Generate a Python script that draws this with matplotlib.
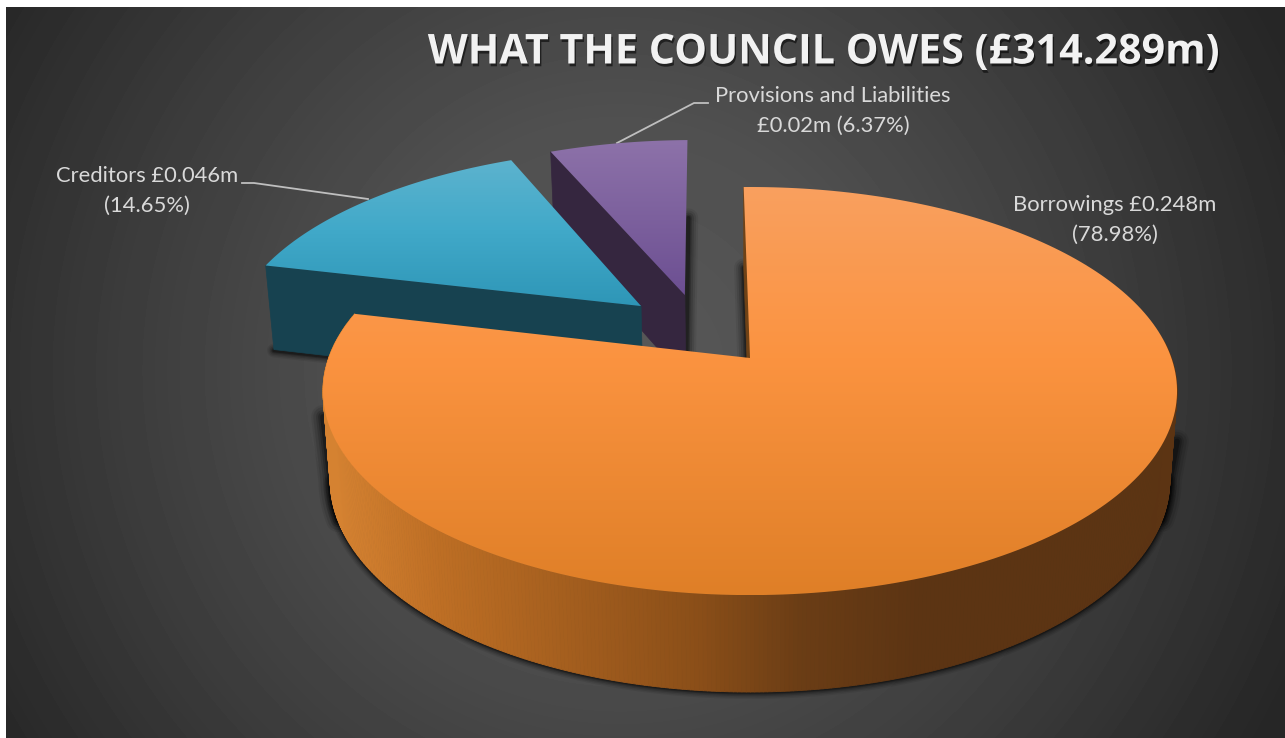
import numpy as np
import matplotlib
matplotlib.use('Agg')
import matplotlib.pyplot as plt
import matplotlib.patheffects as pe
from matplotlib.collections import PolyCollection
from matplotlib.colors import to_rgb
from matplotlib.patches import Polygon

title = 'WHAT THE COUNCIL OWES (£314.289m)'
categories = ['Borrowings', 'Creditors', 'Provisions and Liabilities']
amounts = ['£0.248m', '£0.046m', '£0.02m']
shares = [78.98, 14.65, 6.37]
labels = ['Borrowings £0.248m\n(78.98%)',
          'Creditors £0.046m\n(14.65%)',
          'Provisions and Liabilities\n£0.02m (6.37%)']

W, H = 1285, 738
APEX_X, APEX_Y = 750, 358
RX, RY, TILT = 421.4, 198.7, 0.162
START = 91.0
# how far each slice is pulled out, in pie plane units
explode = [(0, 0), (-0.27, 0.273), (-0.163, 0.334)]

top_ramps = [
    ([187, 358, 595], ['#F9A05F', '#FB9340', '#DF7F27']),
    ([159, 230, 306], ['#5DB3CE', '#41A9C9', '#2E96B7']),
    ([140, 295], ['#8D72A9', '#6C4F92']),
]
side_stops = ([335, 440, 700, 800, 920], ['#D58231', '#BD6E24', '#8A4E18', '#6B3D15', '#5C3413'])
panel_colors = ['#6F4216', '#174250', '#35263F']


def top_xy(u, v, off=(0, 0)):
    u = np.asarray(u) + off[0]
    v = np.asarray(v) + off[1]
    w = 1 + TILT * v
    return APEX_X + RX * u / w, APEX_Y - RY * v / w


def to_bottom(x, y):
    return APEX_X + 0.983 * (np.asarray(x) - APEX_X), 73.7 + 1.039 * np.asarray(y)


def arc(a1, a2, off=(0, 0), n=240):
    t = np.radians(np.linspace(a1, a2, n))
    return top_xy(np.cos(t), np.sin(t), off)


def ramp_colors(values, stops, cols):
    rgb = np.array([to_rgb(c) for c in cols])
    return np.stack([np.interp(values, stops, rgb[:, i]) for i in range(3)], axis=-1)


def shadow_line(ax, x, y, z, widths=(10, 8, 6, 4, 2.5)):
    for lw, a in zip(widths, [0.07, 0.1, 0.14, 0.2, 0.3]):
        ax.plot(x, y, color='black', lw=lw, alpha=a, zorder=z, solid_capstyle='round')


def top_face(ax, xs, ys, ramp, z):
    stops, cols = ramp
    rows = np.linspace(min(stops), max(stops), 256)[:, None]
    grad = ramp_colors(rows[:, 0], stops, cols)[:, None, :]
    im = ax.imshow(grad, extent=(0, W, max(stops), min(stops)), aspect='auto', zorder=z,
                   interpolation='bilinear')
    poly = Polygon(np.column_stack([xs, ys]), closed=True, transform=ax.transData,
                   fc='none', ec='none')
    ax.add_patch(poly)
    im.set_clip_path(poly)


fig = plt.figure(figsize=(W / 100, H / 100), dpi=100, facecolor='white')
ax = fig.add_axes([0, 0, 1, 1])
ax.axis('off')

# radial background
yy, xx = np.mgrid[7:H, 6:W]
dist = np.hypot(xx - 620, yy - 370)
shade = np.interp(dist, [0, 250, 500, 740], [0x58, 0x50, 0x3C, 0x26]) / 255
ax.imshow(shade, extent=(6, W, H, 7), cmap='gray', vmin=0, vmax=1, aspect='auto', zorder=0)

# slice angles come from the shares, going clockwise from START
edges = START - np.cumsum([0] + shares) * 3.6
a_org = (edges[0], edges[1])
a_cre = (edges[1], edges[2])
a_pro = (edges[2], edges[3])

# provisions
off = explode[2]
ax_, ay_ = top_xy(0, 0, off)
x, y = arc(a_pro[0], a_pro[1], off)
bx, by = to_bottom(ax_, ay_)
shadow_line(ax, [x[-1] + 1, bx], [y[-1] + 78, by], 2, widths=(14, 11, 8, 5, 3))
bx0, by0 = to_bottom(x[0], y[0])
ax.add_patch(Polygon([(x[0], y[0]), (ax_, ay_), (bx, by), (bx0, by0)], fc=panel_colors[2], ec=panel_colors[2], lw=0.5, zorder=3))
top_face(ax, np.r_[ax_, x], np.r_[ay_, y], top_ramps[2], 4)

# creditors
off = explode[1]
ax_, ay_ = top_xy(0, 0, off)
x, y = arc(a_cre[0], a_cre[1], off)
bx, by = to_bottom(ax_, ay_)
bx0, by0 = to_bottom(x[0], y[0])
shadow_line(ax, [bx0, bx], [by0 + 1, by], 2)
ax.add_patch(Polygon([(x[0], y[0]), (ax_, ay_), (bx, by), (bx0, by0)], fc=panel_colors[1], ec=panel_colors[1], lw=0.5, zorder=5))
top_face(ax, np.r_[ax_, x], np.r_[ay_, y], top_ramps[1], 6)

# borrowings: inner panel, curved side, then top
ax_, ay_ = top_xy(0, 0)
x, y = arc(a_org[0], a_org[1])
bx, by = to_bottom(x[0], y[0])
bax, bay = to_bottom(ax_, ay_)
shadow_line(ax, [bx, bax], [by, bay], 2, widths=(14, 11, 8, 5, 3))
ax.add_patch(Polygon([(x[0], y[0]), (ax_, ay_), (bax, bay), (bx, by)], fc=panel_colors[0], ec=panel_colors[0], lw=0.5, zorder=7))

sx, sy = arc(a_org[1] + 360, 365, n=400)
ex, ey = to_bottom(sx, sy)
left = np.argmin(sx)
right = np.argmax(sx)
shadow_line(ax, ex[left:right + 1], ey[left:right + 1], 2)
# the shadow is wider round the two ends of the pie
shadow_line(ax, np.r_[sx[left], ex[left:left + 22]], np.r_[sy[left] + 25, ey[left:left + 22]], 2, widths=(17, 14, 10, 7, 4))
shadow_line(ax, np.r_[sx[right], ex[right:right - 22:-1]], np.r_[sy[right] + 50, ey[right:right - 22:-1]], 2, widths=(17, 14, 10, 7, 4))
quads = [[(sx[i], sy[i]), (sx[i + 1], sy[i + 1]), (ex[i + 1], ey[i + 1]), (ex[i], ey[i])]
         for i in range(len(sx) - 1)]
cols = ramp_colors((sx[:-1] + sx[1:]) / 2, side_stops[0], side_stops[1])
ax.add_collection(PolyCollection(quads, facecolors=cols, edgecolors=cols, linewidths=0.6, zorder=8))
top_face(ax, np.r_[ax_, x], np.r_[ay_, y], top_ramps[0], 9)

# leader lines
ax.plot([242, 254, 368], [183, 183, 199], color='#BFBFBF', lw=1.3, zorder=3)
ax.plot([708, 694, 617], [103, 103, 143], color='#BFBFBF', lw=1.3, zorder=3)

# labels
label_pos = [(1115, 220), (147, 191), (833, 111)]
for txt, (lx, ly) in zip(labels, label_pos):
    ax.text(lx, ly, txt, ha='center', va='center', color='#D9D9D9', fontsize=15.8,
            family='Lato', linespacing=1.6, zorder=12)

ax.text(824, 53, title, ha='center', va='center', color='#F2F2F2', fontsize=29.7,
        family='Open Sans', fontweight='bold', zorder=12,
        path_effects=[pe.withSimplePatchShadow(offset=(1, -2), shadow_rgbFace='black', alpha=0.55)])

ax.set_xlim(0, W)
ax.set_ylim(H, 0)
fig.savefig('out.png', dpi=100, facecolor='white')
